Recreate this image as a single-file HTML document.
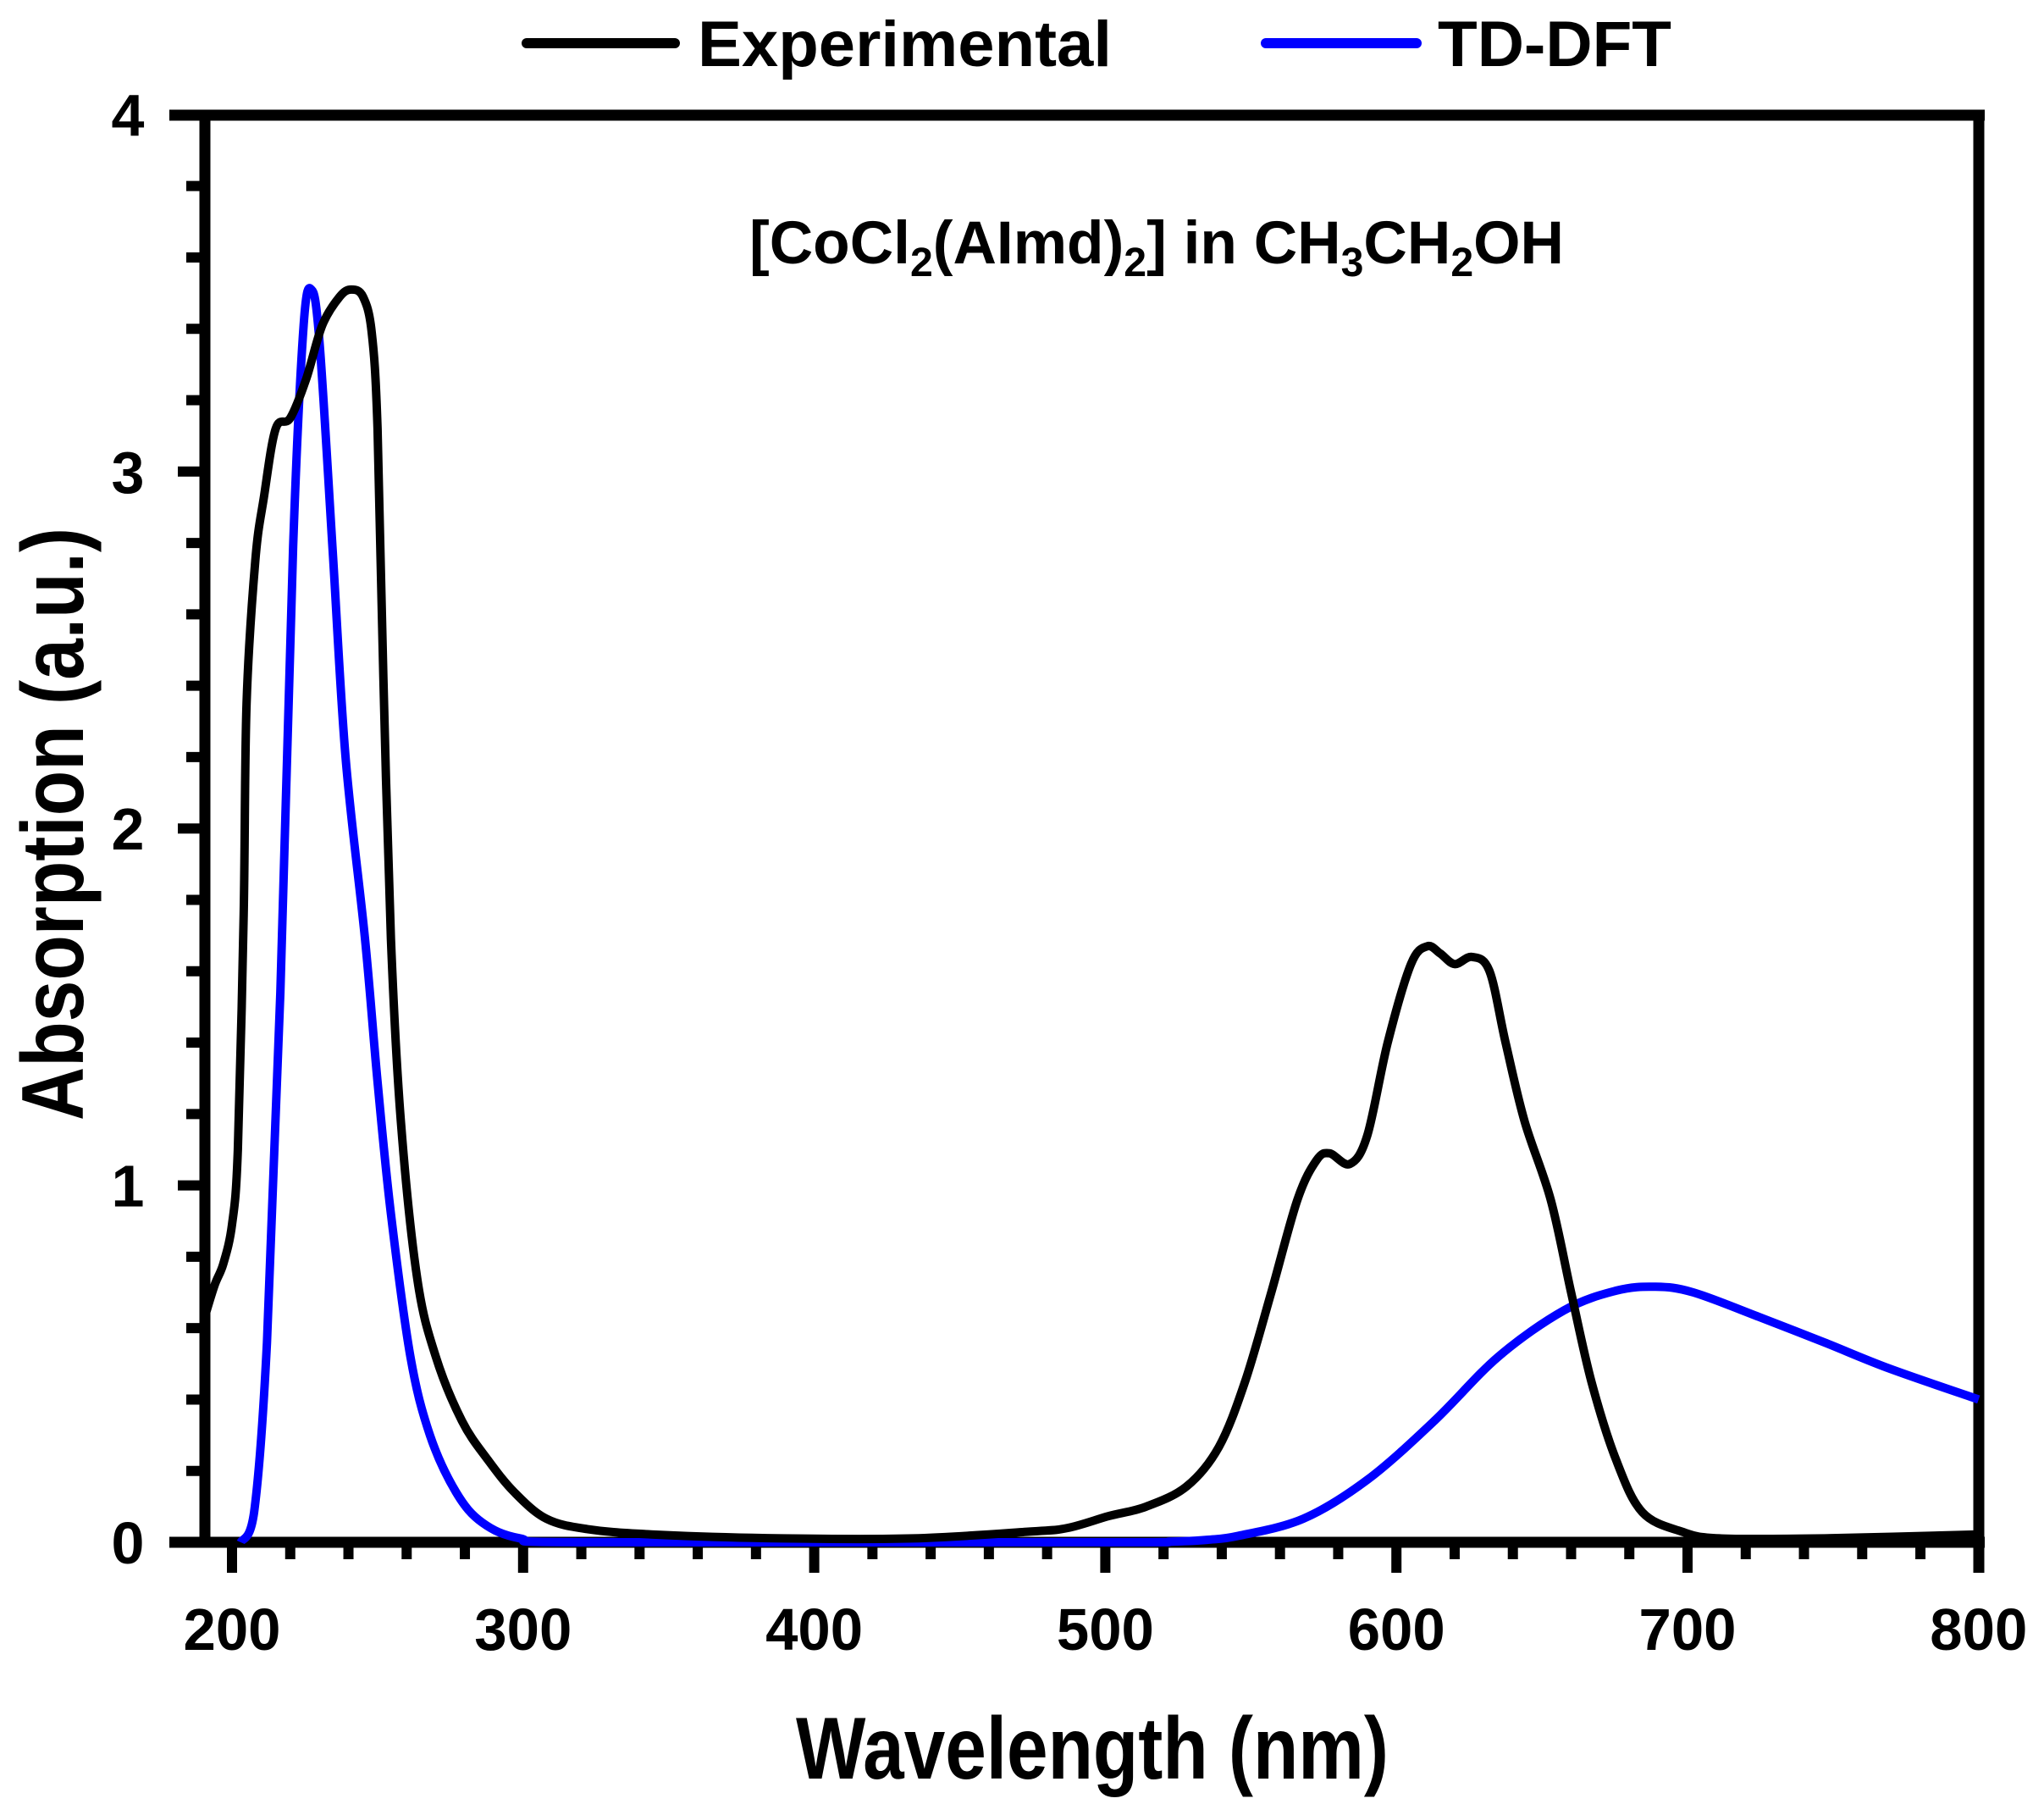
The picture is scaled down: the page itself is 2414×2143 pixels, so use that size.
<!DOCTYPE html>
<html><head><meta charset="utf-8"><style>
html,body{margin:0;padding:0;background:#fff;}
svg{display:block;font-family:"Liberation Sans",Arial,sans-serif;font-weight:bold;}
</style></head><body>
<svg id="chart" width="2414" height="2143" viewBox="0 0 2414 2143" xmlns="http://www.w3.org/2000/svg">
<rect width="2414" height="2143" fill="#fff"/>
<g id="frame"></g>
<g id="ticks"></g>
<g id="series"></g>
<text x="1366" y="311" font-size="71" text-anchor="middle" textLength="962" lengthAdjust="spacingAndGlyphs">[CoCl<tspan font-size="48" dy="15">2</tspan><tspan dy="-15">(AImd)</tspan><tspan font-size="48" dy="15">2</tspan><tspan dy="-15">] in CH</tspan><tspan font-size="48" dy="15">3</tspan><tspan dy="-15">CH</tspan><tspan font-size="48" dy="15">2</tspan><tspan dy="-15">OH</tspan></text>
<text x="1290" y="2100" font-size="104" text-anchor="middle" textLength="700" lengthAdjust="spacingAndGlyphs">Wavelength (nm)</text>
<text transform="translate(98,973) rotate(-90)" font-size="104" text-anchor="middle" textLength="700" lengthAdjust="spacingAndGlyphs">Absorption (a.u.)</text>
<g>
<line x1="622" y1="51" x2="797" y2="51" stroke="#000" stroke-width="12" stroke-linecap="round"/>
<text x="824" y="78" font-size="76" textLength="489" lengthAdjust="spacingAndGlyphs">Experimental</text>
<line x1="1495" y1="51" x2="1673" y2="51" stroke="#0000ff" stroke-width="12" stroke-linecap="round"/>
<text x="1698" y="78" font-size="76" textLength="276" lengthAdjust="spacingAndGlyphs">TD-DFT</text>
</g>
</svg>
<script>
const expWavelengths = [190.6,194,197,200,202,204,205,208,211,215,220,225.5,231,237,241,245,248,250,252,254.6,258,263.6,270,279,288,297,308,322,344,389,434,474,487,501,514,528,539,548,557,566,572.5,577,584,590,597,605,610.6,615,620,626,632,637.5,644,653,660,667,675.5,684.5,698,711,747,800];
const expAbsorption = [0.63,0.72,0.78,0.89,1.1,1.76,2.35,2.75,2.93,3.12,3.15,3.26,3.41,3.49,3.51,3.49,3.39,3.12,2.42,1.69,1.18,0.74,0.52,0.34,0.23,0.14,0.066,0.037,0.022,0.011,0.011,0.03,0.04,0.073,0.10,0.157,0.267,0.45,0.70,0.96,1.07,1.09,1.06,1.14,1.40,1.62,1.67,1.65,1.62,1.64,1.60,1.40,1.18,0.96,0.70,0.45,0.23,0.084,0.03,0.011,0.011,0.022];
const dftWavelengths = [203,207.6,212,216.6,221,224.6,227.3,230,234.5,239,245.7,250,254.6,261.3,268,277,286,299,322,500,523,535,545.7,568,590,613,635,657.6,675.5,689,702,725,747,769.6,800];
const dftAbsorption = [0,0.084,0.56,1.54,2.79,3.41,3.51,3.37,2.79,2.20,1.69,1.29,0.92,0.52,0.30,0.14,0.055,0.011,0,0,0.002,0.007,0.018,0.066,0.175,0.34,0.52,0.65,0.705,0.716,0.70,0.63,0.56,0.486,0.40];
const xTickLabels = [200,300,400,500,600,700,800];
const yTickLabels = [0,1,2,3,4];

const NS = "http://www.w3.org/2000/svg";
const X0 = 274, XS = 3.438;
const Y0 = 1821, YS = 421.4;
function xs(v){return X0 + (v-200)*XS;}
function ys(v){return Y0 - v*YS;}
function mk(tag, attrs, parent){const e=document.createElementNS(NS,tag);for(const k in attrs)e.setAttribute(k,attrs[k]);parent.appendChild(e);return e;}

const frame = document.getElementById('frame');
const L = 242, R = 2337, T = 136, B = 1821;
let e;
e = mk('line',{x1:200,y1:T,x2:R+7,y2:T,stroke:'#000','stroke-width':13},frame);


e = mk('line',{x1:200,y1:B,x2:R+7,y2:B,stroke:'#000','stroke-width':13},frame);


e = mk('line',{x1:L,y1:T,x2:L,y2:B,stroke:'#000','stroke-width':13},frame);


e = mk('line',{x1:R,y1:T-6,x2:R,y2:B+36,stroke:'#000','stroke-width':13},frame);



const ticks = document.getElementById('ticks');
for(let w=200; w<=780; w+=20){
  const major = (w%100===0);
  e = mk('line',{x1:xs(w),y1:B,x2:xs(w),y2:B+(major?36:20),stroke:'#000','stroke-width':12},ticks);
  
  
}
for(let i=1;i<20;i++){
  const v=i*0.2; const major=(i%5===0);
  e = mk('line',{x1:L,y1:ys(v),x2:L-(major?32:22),y2:ys(v),stroke:'#000','stroke-width':12},ticks);
  
  
}
xTickLabels.forEach(v=>{
  e = mk('text',{x:xs(v),y:1948,'font-size':70,'text-anchor':'middle',textLength:115,lengthAdjust:'spacingAndGlyphs'},ticks);
  e.textContent=v;
  
  
});
yTickLabels.forEach(v=>{
  e = mk('text',{x:151,y:ys(v)+25,'font-size':70,'text-anchor':'middle'},ticks);
  e.textContent=v;
  
  
});

function pathFrom(xsArr, ysArr){
  const p = xsArr.map((w,i)=>[xs(w), ys(ysArr[i])]);
  let d = 'M'+p[0][0].toFixed(1)+','+p[0][1].toFixed(1);
  for(let i=0;i<p.length-1;i++){
    const p0=p[Math.max(0,i-1)], p1=p[i], p2=p[i+1], p3=p[Math.min(p.length-1,i+2)];
    const t=0.5/3;
    let c1y=p1[1]+(p2[1]-p0[1])*t, c2y=p2[1]-(p3[1]-p1[1])*t;
    c1y=Math.min(c1y,Y0); c2y=Math.min(c2y,Y0);
    d+=' C'+(p1[0]+(p2[0]-p0[0])*t).toFixed(1)+','+c1y.toFixed(1)+' '+(p2[0]-(p3[0]-p1[0])*t).toFixed(1)+','+c2y.toFixed(1)+' '+p2[0].toFixed(1)+','+p2[1].toFixed(1);
  }
  return d;
}
const series = document.getElementById('series');
e = mk('path',{d:pathFrom(dftWavelengths,dftAbsorption),fill:'none',stroke:'#0000ff','stroke-width':10,'stroke-linejoin':'round'},series);


e = mk('path',{d:pathFrom(expWavelengths,expAbsorption),fill:'none',stroke:'#000','stroke-width':10,'stroke-linejoin':'round'},series);


</script>
</body></html>
